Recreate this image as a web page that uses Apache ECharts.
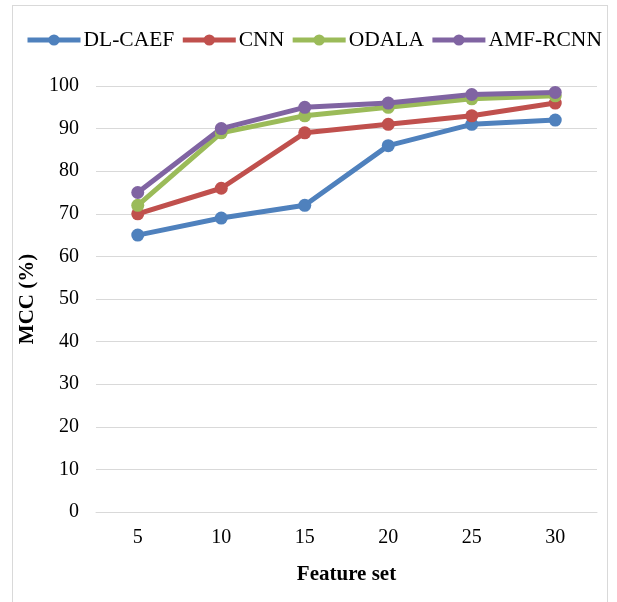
<!DOCTYPE html>
<html>
<head>
<meta charset="utf-8">
<script src="https://cdn.jsdelivr.net/npm/echarts@6/dist/echarts.min.js"></script>
<style>
html,body{margin:0;padding:0;background:#fff;}
#wrap{position:absolute;left:12px;top:5px;width:596px;height:600px;border:1px solid #d9d9d9;box-sizing:border-box;}
#chart{position:absolute;left:0;top:0;width:617px;height:602px;}
</style>
</head>
<body>
<div id="wrap"></div>
<div id="chart"></div>
<script>
const categories = ['5', '10', '15', '20', '25', '30'];
const dlcaef = [65, 69, 72, 86, 91, 92];
const cnn = [70, 76, 89, 91, 93, 96];
const odala = [72, 89, 93, 95, 97, 97.7];
const amfrcnn = [75, 90, 95, 96, 98, 98.5];
const seriesNames = ['DL-CAEF', 'CNN', 'ODALA', 'AMF-RCNN'];
const colors = ['#4F81BD', '#C0504D', '#9BBB59', '#8064A2'];

const font = 'Liberation Serif, Times New Roman, serif';
const chart = echarts.init(document.getElementById('chart'));
const data = [dlcaef, cnn, odala, amfrcnn];
chart.setOption({
  animation: false,
  color: colors,
  legend: {
    top: 24,
    left: 20,
    itemWidth: 53,
    itemHeight: 14,
    itemGap: 6,
    lineStyle: {width: 5},
    textStyle: {fontFamily: font, fontSize: 21.5, color: '#000', padding: [0, 0, 0, -2]},
    data: seriesNames
  },
  grid: {left: 96, right: 20, top: 86, bottom: 90},
  xAxis: {
    type: 'category',
    data: categories,
    boundaryGap: true,
    axisLine: {lineStyle: {color: '#d9d9d9', width: 1}},
    axisTick: {show: false},
    axisLabel: {fontFamily: font, fontSize: 20, color: '#000', margin: 16},
    name: 'Feature set',
    nameLocation: 'middle',
    nameGap: 52,
    nameTextStyle: {fontFamily: font, fontSize: 21, fontWeight: 'bold', color: '#000'}
  },
  yAxis: {
    type: 'value',
    min: 0, max: 100, interval: 10,
    axisLine: {show: false},
    axisTick: {show: false},
    splitLine: {lineStyle: {color: '#d9d9d9', width: 1}},
    axisLabel: {fontFamily: font, fontSize: 20, color: '#000', margin: 17},
    name: 'MCC (%)',
    nameLocation: 'middle',
    nameGap: 52,
    nameRotate: 90,
    nameTextStyle: {fontFamily: font, fontSize: 21, fontWeight: 'bold', color: '#000'}
  },
  series: seriesNames.map((n, i) => ({
    name: n,
    type: 'line',
    data: data[i],
    symbol: 'circle',
    symbolSize: 13,
    lineStyle: {width: 5},
    itemStyle: {color: colors[i]}
  }))
});
</script>
</body>
</html>
